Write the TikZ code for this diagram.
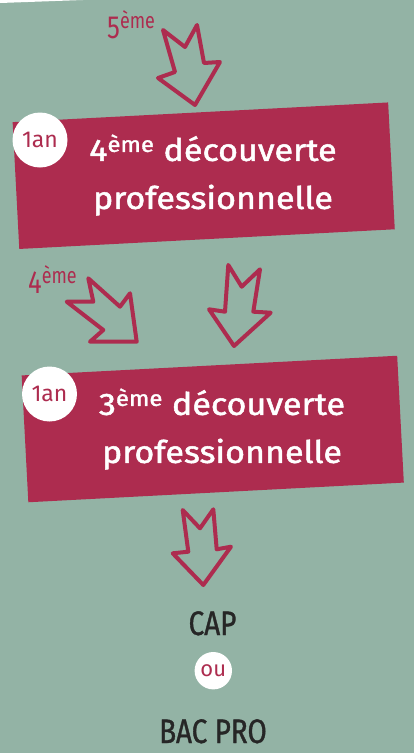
\documentclass[tikz,border=0pt]{standalone}
\usepackage{fontspec}
\setmainfont{Fira Sans}
\newfontfamily\narrowfont[FakeStretch=0.82, FakeBold=1]{Fira Sans}
\newfontfamily\levelfont[FakeStretch=0.8]{Fira Sans}
\newfontfamily\boxfont[FakeStretch=1.1, FakeBold=1.6]{Fira Sans}
\definecolor{sage}{HTML}{93B3A5}
\definecolor{wine}{HTML}{AD2C4F}

\tikzset{
    bigarrow/.style={draw=wine, line width=4pt, line join=round},
    stagebox/.style={fill=wine, minimum width=376pt, minimum height=127pt, rotate=3, inner sep=0pt},
    stagetext/.style={text=white, align=center, inner sep=0pt, font=\boxfont\fontsize{31}{48}\selectfont},
    badge/.style={circle, fill=white, inner sep=0pt, text=wine},
    level/.style={text=wine, inner sep=0pt, anchor=base west, font=\levelfont\fontsize{32}{32}\selectfont},
    exam/.style={text=black!85, inner sep=0pt, anchor=base, font=\narrowfont\fontsize{34}{34}\selectfont},
}

\begin{document}
\begin{tikzpicture}[x=1pt, y=-1pt]
    \fill[sage] (0,0) rectangle (414,753);
    \fill[white] (0,0) -- (83,0) -- (0,3) -- cycle;
    \useasboundingbox (0,0) rectangle (414,753);

    \node[level] (l5) at (107,38) {5\textsuperscript{ème}};
    \node[level] (l4) at (28,293) {4\textsuperscript{ème}};

    % arrows
    \draw[bigarrow] (163,30) -- (185,47) -- (197,25) -- (204,63) -- (220,62) -- (195,105) -- (158,78) -- (175,72) -- cycle;
    \draw[bigarrow] (88.3,278.3) -- (120,306.7) -- (130,293.3) -- (136.7,341.7) -- (90,341.7) -- (103.3,330) -- (66.7,301.7) -- (93.3,301.7) -- cycle;
    \draw[bigarrow] (228.3,265) -- (241.7,286.7) -- (260,269.3) -- (253.3,311.7) -- (270.7,312.7) -- (234,346) -- (209,309.3) -- (225,311.7) -- cycle;
    \draw[bigarrow] (182.7,510) -- (200,528.3) -- (213.3,509.3) -- (216.7,549.3) -- (231,546.7) -- (203.3,585) -- (172.7,553.3) -- (188.3,551.7) -- cycle;

    \node[stagebox] (box4) at (203.7,175.7) {};
    \node[stagetext] (txt4) at (213,175) {4\textsuperscript{ème} découverte\\professionnelle};
    \node[badge, minimum size=55pt, font=\fontsize{23}{23}\selectfont] (an4) at (40,140) {1an};

    \node[stagebox] (box3) at (212.75,429) {};
    \node[stagetext] (txt3) at (222,429) {3\textsuperscript{ème} découverte\\professionnelle};
    \node[badge, minimum size=55pt, font=\fontsize{23}{23}\selectfont] (an3) at (49.5,394) {1an};

    \node[exam] (cap) at (212.5,635) {CAP};
    \node[badge, minimum size=37.4pt, font=\fontsize{22}{22}\selectfont] (ou) at (213.3,670.7) {ou};
    \node[exam] (bac) at (213,743) {BAC PRO};
\end{tikzpicture}
\end{document}
